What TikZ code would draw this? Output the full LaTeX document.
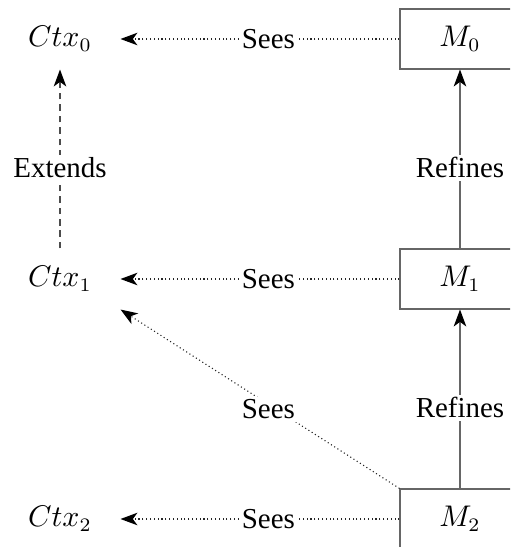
\documentclass[tikz,border=0pt]{standalone}
\usepackage{fontspec}
\setmainfont{Liberation Serif}
\usetikzlibrary{arrows.meta}
\begin{document}
\fontsize{10.6}{12.8}\selectfont
\begin{tikzpicture}[x=0.3663pt, y=-0.3663pt,
  tip/.style={-{Stealth[length=6.2pt,width=4.6pt,inset=1.7pt,color=black]}},
  machine/.style={draw=black!60, minimum width=43.95pt, minimum height=21.98pt, inner sep=0pt},
  context/.style={minimum width=43.95pt, minimum height=21.98pt, inner sep=0pt},
  sees/.style={tip, draw=black!85, densely dotted},
  extends/.style={tip, draw=black!70, dash pattern=on 2.4pt off 1.8pt},
  refines/.style={tip, draw=black!60},
  lbl/.style={fill=white, inner sep=1pt}]
  \useasboundingbox (0,0) rectangle (510,547);
  \clip (0,0) rectangle (510,547);

  % contexts (left column)
  \node[context] (c0) at (60,39)  {$Ctx_0$};
  \node[context] (c1) at (60,279) {$Ctx_1$};
  \node[context] (c2) at (60,519) {$Ctx_2$};

  % machines (right column)
  \node[machine] (m0) at (460,39)  {$M_0$};
  \node[machine] (m1) at (460,279) {$M_1$};
  \node[machine] (m2) at (460,519) {$M_2$};

  % sees relations
  \draw[sees] (m0.west) -- node[lbl, pos=0.47] {Sees} (c0.east);
  \draw[sees] (m1.west) -- node[lbl, pos=0.47] {Sees} (c1.east);
  \draw[sees] (m2.west) -- node[lbl, pos=0.47] {Sees} (c2.east);
  \draw[sees] (m2.north west) -- node[lbl, pos=0.47, yshift=-1.8pt] {Sees} (c1.south east);

  % context extension
  \draw[extends] (c1.north) -- node[lbl, pos=0.45] {Extends} (c0.south);

  % refinement chain
  \draw[refines] (m1.north) -- node[lbl, pos=0.45] {Refines} (m0.south);
  \draw[refines] (m2.north) -- node[lbl, pos=0.45] {Refines} (m1.south);
\end{tikzpicture}
\end{document}
